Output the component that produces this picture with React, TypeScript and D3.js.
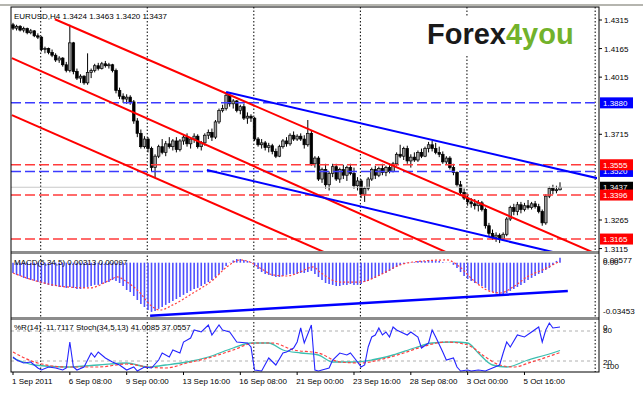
import React from 'react';
import * as d3 from 'd3';

// EURUSD H4 candles, in pips above 1.3000: [open, high, low, close]
const candles: number[][] = [
  [1290, 1300, 1262, 1272], [1272, 1290, 1260, 1282], [1282, 1288, 1255, 1262], [1262, 1280, 1250, 1270],
  [1270, 1275, 1240, 1248], [1248, 1268, 1240, 1258], [1258, 1262, 1225, 1232], [1232, 1245, 1215, 1225],
  [1225, 1230, 1150, 1160], [1160, 1175, 1140, 1165], [1165, 1170, 1135, 1145], [1145, 1160, 1120, 1130],
  [1130, 1140, 1095, 1105], [1105, 1125, 1090, 1115], [1115, 1120, 1070, 1080], [1080, 1095, 1040, 1050],
  [1050, 1290, 1040, 1195], [1195, 1200, 1030, 1045], [1045, 1060, 1000, 1010], [1010, 1030, 985, 1020],
  [1020, 1025, 975, 985], [985, 1140, 975, 1040], [1040, 1060, 1010, 1050], [1050, 1085, 1040, 1075],
  [1075, 1090, 1050, 1060], [1060, 1095, 1055, 1085], [1085, 1100, 1065, 1075], [1075, 1090, 1060, 1080],
  [1080, 1085, 1040, 1050], [1050, 1060, 930, 945], [945, 960, 900, 915], [915, 930, 880, 900],
  [900, 925, 875, 910], [910, 920, 870, 885], [885, 895, 770, 785], [785, 800, 700, 720],
  [720, 740, 640, 650], [650, 705, 640, 690], [690, 700, 620, 640], [640, 650, 520, 540],
  [540, 610, 490, 600], [600, 660, 590, 650], [650, 690, 610, 620], [620, 680, 600, 665],
  [665, 700, 640, 650], [650, 690, 630, 680], [680, 700, 620, 635], [635, 690, 625, 680],
  [680, 715, 660, 700], [700, 720, 650, 665], [665, 700, 640, 690], [690, 720, 670, 705],
  [705, 715, 640, 650], [650, 680, 630, 670], [670, 720, 655, 710], [710, 740, 690, 725],
  [725, 745, 680, 700], [700, 790, 690, 780], [780, 850, 770, 840], [840, 870, 830, 850],
  [850, 937, 840, 920], [920, 925, 860, 875], [875, 900, 850, 890], [890, 895, 830, 840],
  [840, 870, 820, 860], [860, 875, 790, 800], [800, 830, 770, 810], [810, 820, 780, 800],
  [800, 805, 680, 690], [690, 700, 650, 660], [660, 690, 640, 670], [670, 680, 630, 645],
  [645, 670, 620, 655], [655, 665, 610, 625], [625, 640, 590, 600], [600, 660, 595, 650],
  [650, 690, 640, 680], [680, 700, 650, 665], [665, 720, 655, 710], [710, 730, 680, 690],
  [690, 715, 680, 705], [705, 720, 680, 690], [690, 710, 640, 660], [660, 790, 650, 720],
  [720, 735, 550, 560], [560, 600, 540, 590], [590, 600, 470, 480], [480, 540, 460, 530],
  [530, 560, 430, 450], [450, 520, 420, 510], [510, 560, 490, 545], [545, 560, 470, 480],
  [480, 540, 460, 530], [530, 555, 480, 500], [500, 550, 470, 540], [540, 560, 500, 510],
  [510, 540, 430, 445], [445, 490, 420, 470], [470, 480, 380, 400], [400, 440, 360, 430],
  [430, 490, 420, 480], [480, 540, 470, 530], [530, 550, 480, 500], [500, 545, 490, 535],
  [535, 560, 500, 515], [515, 550, 495, 540], [540, 560, 510, 520], [520, 570, 515, 560],
  [560, 620, 550, 610], [610, 660, 590, 600], [600, 650, 580, 640], [640, 655, 560, 575],
  [575, 610, 540, 595], [595, 620, 570, 580], [580, 630, 570, 620], [620, 640, 590, 600],
  [600, 650, 595, 640], [640, 675, 620, 660], [660, 680, 625, 640], [640, 670, 610, 620],
  [620, 650, 595, 610], [610, 625, 560, 570], [570, 600, 555, 590], [590, 600, 530, 540],
  [540, 560, 500, 515], [515, 520, 440, 450], [450, 470, 400, 410], [410, 430, 370, 380],
  [380, 400, 340, 360], [360, 380, 330, 350], [350, 375, 320, 340], [340, 370, 310, 355],
  [355, 365, 310, 320], [320, 330, 220, 235], [235, 250, 180, 195], [195, 215, 160, 175],
  [175, 200, 150, 185], [185, 195, 144, 165], [165, 200, 155, 190], [190, 280, 180, 270],
  [270, 340, 260, 330], [330, 350, 290, 310], [310, 360, 290, 345], [345, 360, 300, 320],
  [320, 355, 310, 340], [340, 370, 320, 330], [330, 360, 320, 350], [350, 365, 325, 335],
  [335, 350, 300, 310], [310, 320, 235, 250], [250, 400, 240, 390], [390, 440, 380, 430],
  [430, 450, 400, 420], [420, 445, 405, 424], [424, 463, 420, 437],
];

// MACD(5,34,5) main histogram, one per bar, in units of 0.0001
const macdHist = [
  -65, -77, -84, -96, -103, -109, -115, -122, -128, -134, -140, -147, -147, -153, -153, -159,
  -153, -159, -166, -166, -159, -153, -147, -140, -140, -134, -128, -122, -109, -115, -128, -147,
  -172, -185, -210, -235, -260, -279, -298, -310, -304, -291, -279, -266, -254, -241, -229, -216,
  -203, -191, -178, -166, -159, -147, -134, -122, -109, -90, -71, -46, -21, -2, 14, 23,
  23, 17, 11, 4, -21, -40, -59, -71, -77, -84, -90, -90, -84, -77, -71, -71, -71, -65,
  -65, -59, -52, -71, -90, -109, -128, -134, -140, -147, -147, -140, -140, -134, -140, -140,
  -134, -122, -115, -103, -96, -84, -71, -65, -52, -40, -27, -14, -8, -2, -2, 4,
  11, 11, 11, 17, 17, 14, 11, 4, 1, -2, -14, -33, -59, -84, -103, -115,
  -128, -134, -147, -159, -172, -185, -194, -200, -197, -191, -178, -166, -153, -140, -128, -109,
  -96, -84, -71, -65, -46, -33, -14, 11, 31,
];

// MACD signal line read at [bar, value in 0.0001]
const macdSignal: number[][] = [
  [0, -65], [5.6, -109], [15.2, -153], [21.7, -159], [27.3, -109], [29.3, -90], [32.1, -122],
  [35.8, -191], [38.6, -266], [41.4, -298], [45, -266], [50.7, -191], [56.3, -109], [60.2, -27],
  [63.9, 17], [66.7, 4], [69.5, -33], [73.2, -77], [77.1, -84], [80.8, -59], [84.5, -27],
  [86.4, -59], [92, -122], [97.7, -122], [103.3, -77], [109, -14], [112.6, 4], [122.2, 17],
  [125.8, -27], [129.5, -109], [133.4, -172], [137.1, -191], [140.8, -153], [144.7, -90],
  [150.3, -33], [154, 10],
];

// Williams %R(14) read at [bar, value]
const wpr: number[][] = [
  [0, -72], [1, -78], [3, -84], [5, -82], [7, -94], [8, -98], [10, -92], [12, -94], [14, -98],
  [15, -94], [16, -42], [17, -92], [18, -98], [20, -92], [22, -64], [23, -72], [24, -62], [26, -74],
  [28, -82], [30, -88], [32, -98], [34, -92], [35, -100], [37, -92], [39, -94], [41, -78], [42, -64],
  [44, -72], [45, -58], [47, -64], [48, -42], [50, -34], [51, -18], [53, -22], [55, -8], [56, -28],
  [58, -8], [59, -18], [61, -22], [63, -42], [66, -44], [67, -52], [68, -98], [70, -100], [72, -74],
  [74, -88], [76, -64], [77, -62], [79, -54], [80, -42], [81, -14], [82, -44], [84, -8], [85, -98],
  [86, -100], [89, -94], [90, -78], [92, -64], [94, -68], [95, -64], [97, -82], [98, -92], [99, -88],
  [100, -52], [101, -32], [102, -28], [103, -14], [104, -28], [105, -22], [106, -32], [107, -12],
  [108, -18], [111, -28], [112, -22], [114, -32], [115, -54], [117, -44], [118, -18], [119, -32],
  [121, -62], [122, -78], [124, -74], [125, -92], [126, -100], [128, -98], [129, -100], [131, -98],
  [133, -100], [135, -94], [137, -88], [138, -64], [139, -42], [140, -52], [142, -28], [144, -32],
  [146, -22], [148, -12], [149, -42], [150, -18], [151, -4], [152, -14], [154, -12],
];

// Stochastic(34,5,13) main and signal read at [bar, value]
const stochMain: number[][] = [
  [0, 26], [6, 12], [15, 8], [24, 12], [32, 16], [38, 8], [43, 12], [49, 18], [55, 28], [62, 46],
  [67, 56], [72, 56], [76, 42], [81, 36], [86, 32], [90, 18], [96, 18], [101, 22], [107, 32],
  [113, 46], [118, 56], [124, 58], [128, 56], [131, 36], [135, 12], [139, 8], [145, 22], [150, 32],
  [154, 41],
];
const stochSignal: number[][] = [
  [0, 38], [6, 18], [15, 8], [24, 8], [32, 14], [38, 8], [43, 6], [49, 16], [55, 26], [62, 42],
  [68, 56], [73, 56], [79, 42], [86, 36], [92, 18], [98, 16], [103, 22], [110, 36], [115, 48],
  [122, 58], [128, 52], [133, 28], [137, 12], [141, 8], [146, 18], [154, 37],
];

// price ticks that are not covered by the level labels
const priceTicks = [1.4315, 1.4165, 1.4015, 1.3715, 1.3265, 1.3115];
const dateLabels = ['1 Sep 2011', '6 Sep 08:00', '9 Sep 00:00', '13 Sep 16:00', '16 Sep 08:00',
  '21 Sep 00:00', '23 Sep 16:00', '28 Sep 08:00', '3 Oct 00:00', '5 Oct 16:00'];
const dateLabelBars = [0, 16, 32, 48, 64, 80, 96, 112, 128, 144];
const gridBars = [7.8, 37.8, 67.8, 97.8, 127.8, 163.9];

const bluePriceLevels = [1.3880, 1.3520];
const redPriceLevels = [1.3555, 1.3396, 1.3165];
const currentPrice = 1.3437;

// trend lines: two anchors [bar, price], extended to the right
const redChannel: number[][][] = [
  [[11.8, 1.4319], [59.7, 1.3932]],
  [[-0.3, 1.4115], [104.2, 1.3244]],
  [[-0.3, 1.3816], [39.4, 1.3491]],
];
const blueTrend: number[][][] = [
  [[60, 1.3937], [164.4, 1.3485]],
  [[54.6, 1.3527], [152, 1.3097]],
];
const macdTrend: number[][] = [[38.6, -334], [156.2, -178.5]];

const FONT = 'Liberation Sans, Arial, sans-serif';

export default function App() {
  const L = 11, R = 599;
  const mainTop = 7, mainBot = 251, macdBot = 317, stTop = 320, stBot = 372;

  const x = d3.scaleLinear().domain([0, 154]).range([13, 560]);
  const yP = d3.scaleLinear().domain([1.3265, 1.4315]).range([220, 20]);
  const yM = d3.scaleLinear().domain([-0.03453, 0.00577]).range([317.5, 253.5]);
  const yS = d3.scaleLinear().domain([0, 100]).range([371, 321]);
  const yR = d3.scaleLinear().domain([-100, 0]).range([371, 321]);
  const pr = (v: number) => 1.3 + v / 10000;

  const extend = (a: number[], b: number[], end: number) => {
    const p = a[1] + ((b[1] - a[1]) * (end - a[0])) / (b[0] - a[0]);
    return [a, [end, p]];
  };

  const sigLine = d3.line<number[]>().x(d => x(d[0])).y(d => yM(d[1] / 10000)).curve(d3.curveMonotoneX);
  const wprLine = d3.line<number[]>().x(d => x(d[0])).y(d => yR(d[1]));
  const stLine = d3.line<number[]>().x(d => x(d[0])).y(d => yS(d[1])).curve(d3.curveMonotoneX);

  const labelBox = (p: number, fill: string, key: string) => (
    <g key={key}>
      <rect x={600} y={yP(p) - 5.5} width={33} height={11} fill={fill} />
      <text x={603} y={yP(p) + 3} fill="#fff" fontSize={8} fontFamily={FONT}>{p.toFixed(4)}</text>
    </g>
  );

  return (
    <svg width={643} height={396} style={{ position: 'absolute', left: 0, top: 0, background: '#fff' }}>
      <defs>
        <clipPath id="mainClip"><rect x={L} y={mainTop} width={R - L - 2} height={mainBot - mainTop} /></clipPath>
        <clipPath id="stClip"><rect x={L} y={stTop} width={R - L} height={stBot - stTop} /></clipPath>
      </defs>
      <rect x={0} y={0} width={643} height={396} fill="#fff" />
      <line x1={0} x2={643} y1={5} y2={5} stroke="#9c9c94" strokeWidth={1.5} />

      {/* vertical dotted grid */}
      {gridBars.map((b, i) => (
        <line key={i} x1={x(b)} x2={x(b)} y1={mainTop} y2={stBot} stroke="#000" strokeDasharray="1.5,2" />
      ))}

      {/* logo */}
      <rect x={418} y={16} width={162} height={38} fill="#fff" />
      <text x={427} y={44} fontSize={29} fontWeight="bold" fontFamily={FONT} fill="#1a1a1a">
        Forex<tspan fill="#72b22b">4you</tspan>
      </text>

      {/* candles */}
      {candles.map((c, i) => {
        const [o, h, l, cl] = c.map(pr);
        const top = yP(Math.max(o, cl));
        const bh = Math.max(1, Math.abs(yP(o) - yP(cl)));
        return (
          <g key={i}>
            <line x1={x(i)} x2={x(i)} y1={yP(h)} y2={yP(l)} stroke="#000" strokeWidth={1} />
            <rect x={x(i) - 1.3} y={top} width={2.6} height={bh} fill={cl >= o ? '#a0a0a0' : '#000'} stroke="#000" strokeWidth={0.7} />
          </g>
        );
      })}

      {/* horizontal levels */}
      <line x1={L} x2={R} y1={yP(currentPrice)} y2={yP(currentPrice)} stroke="#c8c8c8" strokeWidth={1} />
      {bluePriceLevels.map((p, i) => (
        <line key={'b' + i} x1={L} x2={R} y1={yP(p)} y2={yP(p)} stroke="#3b3bff" strokeWidth={1.5} strokeDasharray="10,4" />
      ))}
      {redPriceLevels.map((p, i) => (
        <line key={'r' + i} x1={L} x2={R} y1={yP(p)} y2={yP(p)} stroke="#ff3b3b" strokeWidth={1.5} strokeDasharray="10,4" />
      ))}

      {/* trend lines */}
      <g clipPath="url(#mainClip)">
        {redChannel.map((t, i) => {
          const [a, b] = extend(t[0], t[1], 170);
          return <line key={i} x1={x(a[0])} y1={yP(a[1])} x2={x(b[0])} y2={yP(b[1])} stroke="#ff0000" strokeWidth={2} />;
        })}
        {blueTrend.map((t, i) => {
          const [a, b] = extend(t[0], t[1], 170);
          return <line key={i} x1={x(a[0])} y1={yP(a[1])} x2={x(b[0])} y2={yP(b[1])} stroke="#0000ff" strokeWidth={2} />;
        })}
      </g>

      <text x={14} y={19} fontSize={8} fontFamily={FONT} fill="#000">EURUSD,H4  1.3424 1.3463 1.3420 1.3437</text>

      {/* MACD panel */}
      {macdHist.map((v, i) => (
        <line key={i} x1={x(i)} x2={x(i)} y1={yM(0)} y2={yM(v / 10000)} stroke="#5050ff" strokeWidth={1.6} />
      ))}
      <path d={sigLine(macdSignal) || ''} fill="none" stroke="#ff4040" strokeWidth={1.2} strokeDasharray="2,2" />
      <line x1={x(macdTrend[0][0])} y1={yM(macdTrend[0][1] / 10000)} x2={x(macdTrend[1][0])} y2={yM(macdTrend[1][1] / 10000)}
        stroke="#0000ff" strokeWidth={2.5} />
      <text x={14} y={265} fontSize={8} fontFamily={FONT} fill="#000">MACD(5,34,5) 0.00313 0.00097</text>

      {/* Stochastic / %R panel */}
      {[80, 20].map(v => (
        <line key={v} x1={L} x2={R} y1={yS(v)} y2={yS(v)} stroke="#b0b0b0" strokeDasharray="3,3" />
      ))}
      <g clipPath="url(#stClip)">
        <path d={stLine(stochMain) || ''} fill="none" stroke="#3cbfb0" strokeWidth={1.3} />
        <path d={stLine(stochSignal) || ''} fill="none" stroke="#ff4040" strokeWidth={1.2} strokeDasharray="3,2" />
        <path d={wprLine(wpr) || ''} fill="none" stroke="#2424ff" strokeWidth={1.1} />
      </g>
      <text x={14} y={330} fontSize={8} fontFamily={FONT} fill="#000">%R(14) -11.7117  Stoch(34,5,13) 41.0085 37.0557</text>

      {/* frames and separators */}
      <rect x={L} y={mainBot} width={R - L} height={3} fill="#8c8c8c" />
      <rect x={L} y={macdBot} width={R - L} height={3} fill="#8c8c8c" />
      <rect x={L} y={mainTop} width={R - L} height={stBot - mainTop} fill="none" stroke="#000" strokeWidth={1} />

      {/* price axis */}
      {priceTicks.map(t => (
        <g key={t}>
          <line x1={R} x2={R + 3} y1={yP(t)} y2={yP(t)} stroke="#000" />
          <text x={604} y={yP(t) + 3} fontSize={8} fontFamily={FONT} fill="#000">{t.toFixed(4)}</text>
        </g>
      ))}
      {bluePriceLevels.slice().reverse().map((p, i) => labelBox(p, '#0000ff', 'bl' + i))}
      {labelBox(redPriceLevels[0], '#ff0000', 'rl0')}
      {labelBox(currentPrice, '#000', 'cur')}
      {labelBox(redPriceLevels[1], '#ff0000', 'rl1')}
      {labelBox(redPriceLevels[2], '#ff0000', 'rl2')}

      {/* MACD axis */}
      <text x={603} y={263} fontSize={8} fontFamily={FONT} fill="#000">0.00577</text>
      <text x={603} y={265} fontSize={8} fontFamily={FONT} fill="#000">0.00</text>
      <text x={603} y={314} fontSize={8} fontFamily={FONT} fill="#000">-0.03453</text>
      {/* stochastic axis */}
      <text x={603} y={330} fontSize={8} fontFamily={FONT} fill="#000">0</text>
      <text x={603} y={333} fontSize={8} fontFamily={FONT} fill="#000">80</text>
      <text x={603} y={365} fontSize={8} fontFamily={FONT} fill="#000">20</text>
      <text x={603} y={369} fontSize={8} fontFamily={FONT} fill="#000">-100</text>

      {/* time axis */}
      {dateLabels.map((lab, i) => (
        <g key={lab}>
          <line x1={x(dateLabelBars[i])} x2={x(dateLabelBars[i])} y1={stBot} y2={stBot + 3} stroke="#000" />
          <text x={x(dateLabelBars[i]) - 1} y={384} fontSize={8} fontFamily={FONT} fill="#000">{lab}</text>
        </g>
      ))}
    </svg>
  );
}
